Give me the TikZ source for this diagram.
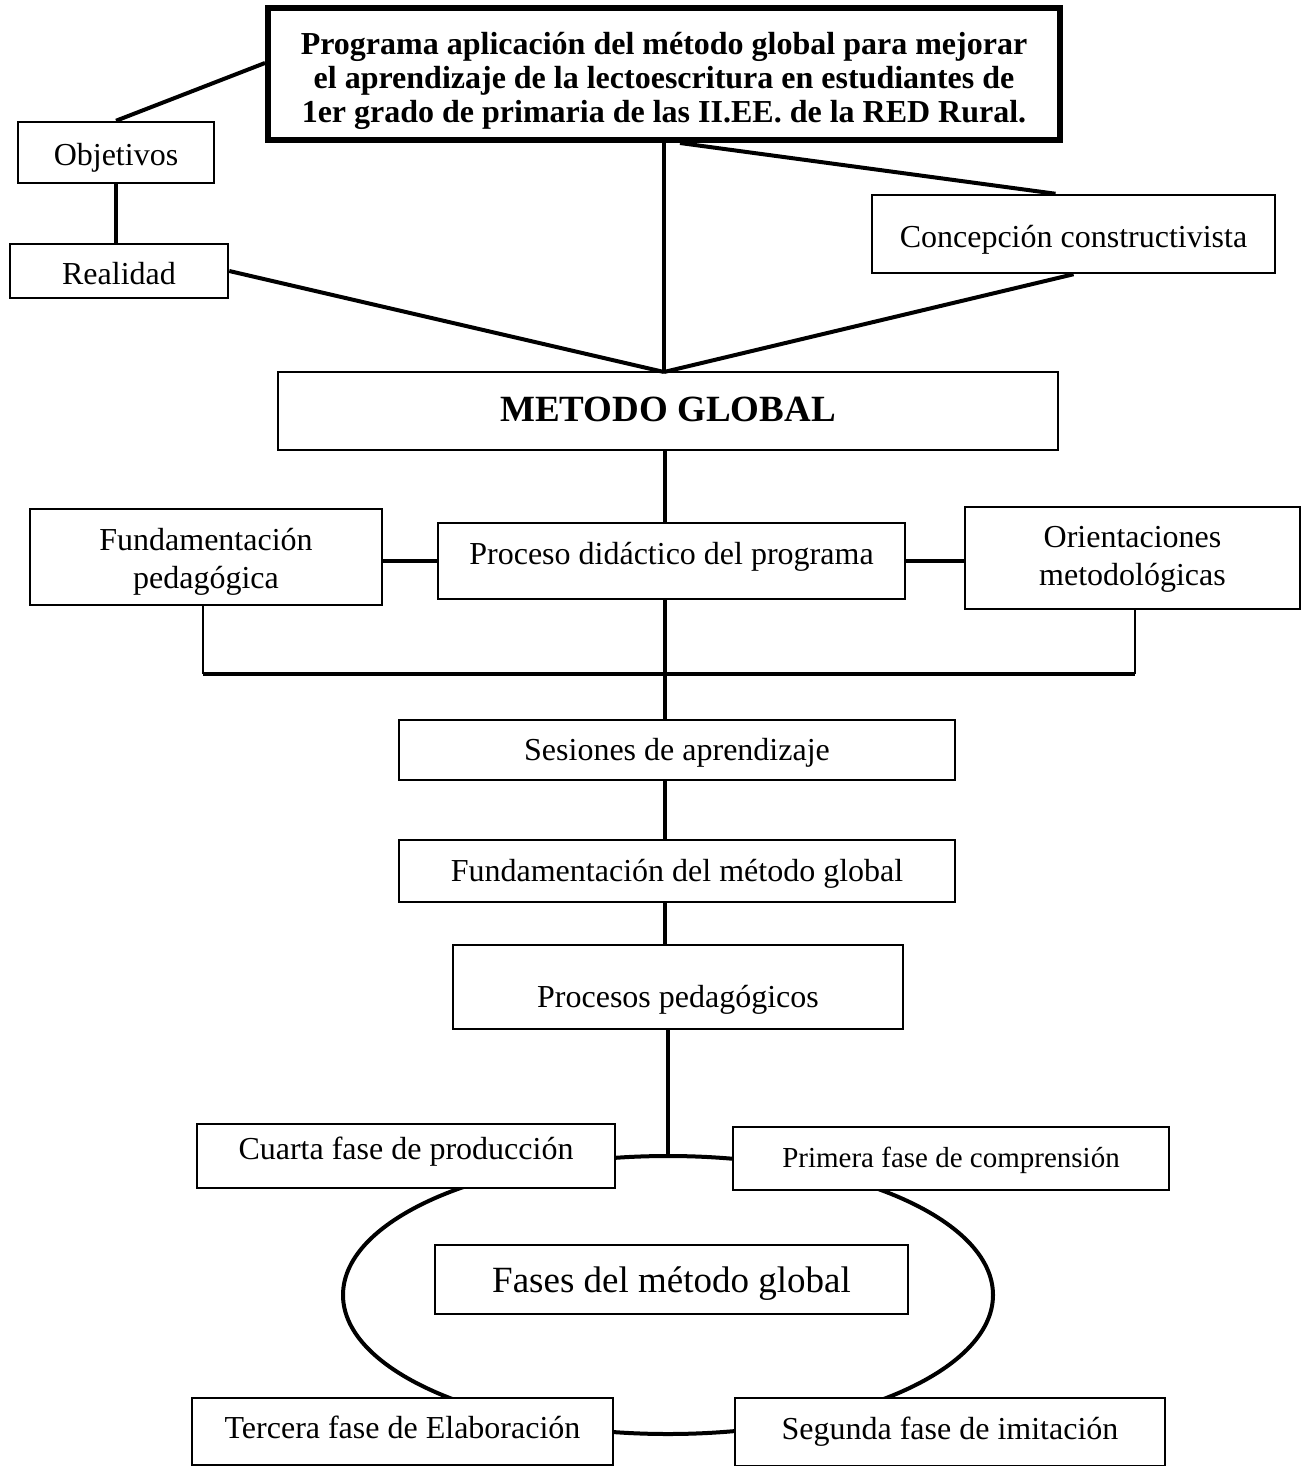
\documentclass[tikz,border=0pt]{standalone}
\usepackage{fontspec}
\setmainfont{Liberation Serif}
\usetikzlibrary{shapes.geometric}
\newcommand{\shiftdown}[2]{\raisebox{-#1}[\height][\depth]{#2}}
\begin{document}
\begin{tikzpicture}[x=1pt,y=-1pt,
  box/.style={draw, line width=2.5pt, fill=white, inner sep=0pt, align=center,
    font=\fontsize{32}{38}\selectfont},
  conn/.style={line width=4pt},
  thinconn/.style={line width=2.5pt}]
\useasboundingbox (0,0) rectangle (1307,1466);
\fill[white] (0,0) rectangle (1307,1466);

% ellipse behind the phase boxes
\node[draw, ellipse, line width=4pt, minimum width=650pt, minimum height=278pt, inner sep=0pt] (ring) at (668,1295) {};

% nodes
\node[box, line width=6pt, minimum width=792pt, minimum height=132pt,
  font=\fontsize{32}{34}\selectfont\bfseries] (title) at (664,74)
  {\shiftdown{8pt}{\begin{tabular}{@{}c@{}}Programa aplicación del método global para mejorar\\ el aprendizaje de la lectoescritura en estudiantes de\\ 1er grado de primaria de las II.EE. de la RED Rural.\end{tabular}}};
\node[box, minimum width=196pt, minimum height=61pt] (obj) at (116,152.5) {\shiftdown{5pt}{Objetivos}};
\node[box, minimum width=218pt, minimum height=54pt] (real) at (119,271) {\shiftdown{3pt}{Realidad}};
\node[box, minimum width=403pt, minimum height=78pt] (conc) at (1073.5,234) {\shiftdown{6pt}{Concepción constructivista}};
\node[box, minimum width=780pt, minimum height=78pt, font=\fontsize{37}{40}\selectfont\bfseries] (met) at (668,411) {\shiftdown{-2pt}{METODO GLOBAL}};
\node[box, minimum width=352pt, minimum height=96pt] (fped) at (206,557) {\shiftdown{5pt}{\begin{tabular}{@{}c@{}}Fundamentación\\pedagógica\end{tabular}}};
\node[box, minimum width=467pt, minimum height=76pt] (proc) at (671.5,561) {\shiftdown{-4pt}{Proceso didáctico del programa}};
\node[box, minimum width=335pt, minimum height=102pt] (orient) at (1132.5,558) {\shiftdown{1pt}{\begin{tabular}{@{}c@{}}Orientaciones\\metodológicas\end{tabular}}};
\node[box, minimum width=556pt, minimum height=60pt] (ses) at (677,750) {\shiftdown{3pt}{Sesiones de aprendizaje}};
\node[box, minimum width=556pt, minimum height=62pt] (fmet) at (677,871) {\shiftdown{3pt}{Fundamentación del método global}};
\node[box, minimum width=450pt, minimum height=84pt] (pped) at (678,987) {\shiftdown{13pt}{Procesos pedagógicos}};
\node[box, minimum width=418pt, minimum height=64pt] (cuarta) at (406,1156) {\shiftdown{-4pt}{Cuarta fase de producción}};
\node[box, minimum width=436pt, minimum height=63pt, font=\fontsize{29}{34}\selectfont] (prim) at (951,1158.5) {\shiftdown{2pt}{Primera fase de comprensión}};
\node[box, minimum width=473pt, minimum height=69pt, font=\fontsize{37}{40}\selectfont] (fases) at (671.5,1279.5) {\shiftdown{4pt}{Fases del método global}};
\node[box, minimum width=421pt, minimum height=67pt] (terc) at (402.5,1431.5) {\shiftdown{-4pt}{Tercera fase de Elaboración}};
\node[box, minimum width=430pt, minimum height=68pt] (seg) at (950,1432) {Segunda fase de imitación};

% helper coordinates
\coordinate (J) at (664,372);
\coordinate (spine) at (665,0);
\coordinate (hl) at (203,674);
\coordinate (hr) at (1135,674);

% connectors
\draw[conn] ([yshift=11pt]title.west) -- (obj.north);
\draw[conn] (obj.south) -- (obj.south |- real.north);
\draw[conn] (real.east) -- (J);
\draw[conn] (title.south) -- (J);
\draw[conn] ([xshift=16pt]title.south) -- ([xshift=-18pt]conc.north);
\draw[conn] (conc.south) -- (J);
\draw[conn] (met.south -| spine) -- (proc.north -| spine);
\draw[conn] (fped.east |- proc.west) -- (proc.west);
\draw[conn] (proc.east) -- (proc.east -| orient.west);
\draw[thinconn] (fped.south -| hl) -- (hl);
\draw[thinconn] (orient.south -| hr) -- (hr);
\draw[conn] (hl) -- (hr);
\draw[conn] (proc.south -| spine) -- (ses.north -| spine);
\draw[conn] (ses.south -| spine) -- (fmet.north -| spine);
\draw[conn] (fmet.south -| spine) -- (pped.north -| spine);
\draw[conn] (pped.south -| ring.north) -- (ring.north);
\end{tikzpicture}
\end{document}
